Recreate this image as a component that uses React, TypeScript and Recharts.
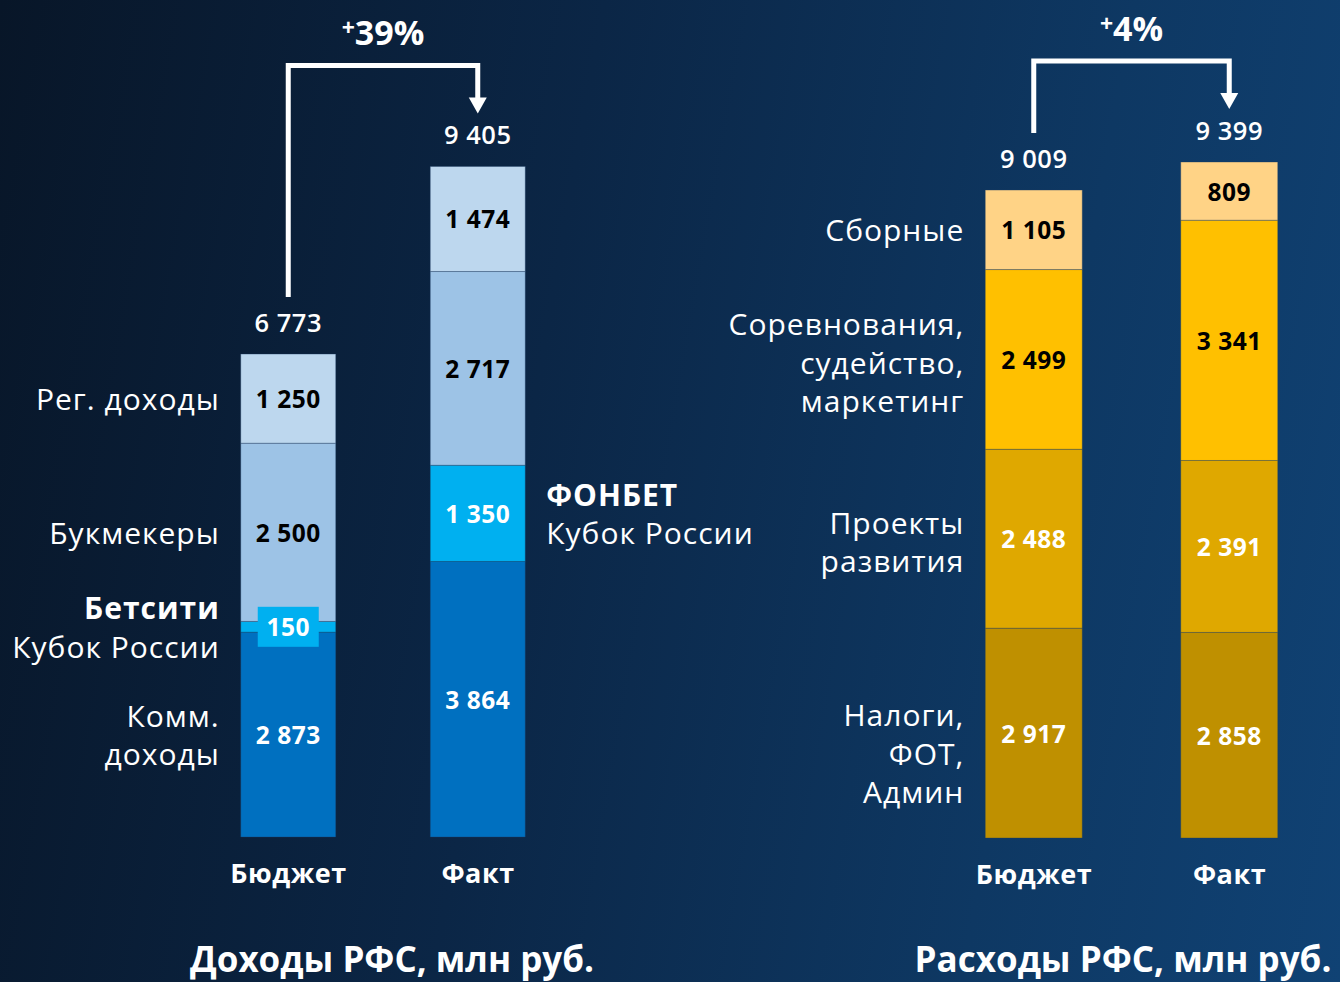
import React from "react";
import { BarChart, Bar, XAxis, YAxis, LabelList } from "recharts";

const categories = ["Бюджет", "Факт"];

// Доходы РФС, млн руб. (снизу вверх)
const incomeCommercial = [2873, 3864];
const incomeCup = [150, 1350];
const incomeBookmakers = [2500, 2717];
const incomeRegional = [1250, 1474];

// Расходы РФС, млн руб. (снизу вверх)
const expenseTaxes = [2917, 2858];
const expenseProjects = [2488, 2391];
const expenseCompetitions = [2499, 3341];
const expenseTeams = [1105, 809];

const FONT = "'Open Sans', 'Noto Sans', sans-serif";

interface NameLabel {
  lines: string[];
  boldFirst?: boolean;
  side: "left" | "right";
  dy?: number;
}

interface SeriesDef {
  key: string;
  values: number[];
  color: string;
  textColor: string;
  names: (NameLabel | null)[];
}

const incomeSeries: SeriesDef[] = [
  {
    key: "commercial",
    values: incomeCommercial,
    color: "#0070c0",
    textColor: "#ffffff",
    names: [{ lines: ["Комм.", "доходы"], side: "left" }, null],
  },
  {
    key: "cup",
    values: incomeCup,
    color: "#00b0f0",
    textColor: "#ffffff",
    names: [
      { lines: ["Бетсити", "Кубок России"], boldFirst: true, side: "left" },
      { lines: ["ФОНБЕТ", "Кубок России"], boldFirst: true, side: "right" },
    ],
  },
  {
    key: "bookmakers",
    values: incomeBookmakers,
    color: "#9dc3e6",
    textColor: "#000000",
    names: [{ lines: ["Букмекеры"], side: "left" }, null],
  },
  {
    key: "regional",
    values: incomeRegional,
    color: "#bdd7ee",
    textColor: "#000000",
    names: [{ lines: ["Рег. доходы"], side: "left" }, null],
  },
];

const expenseSeries: SeriesDef[] = [
  {
    key: "taxes",
    values: expenseTaxes,
    color: "#bf9000",
    textColor: "#ffffff",
    names: [{ lines: ["Налоги,", "ФОТ,", "Админ"], side: "left", dy: 20 }, null],
  },
  {
    key: "projects",
    values: expenseProjects,
    color: "#dfa800",
    textColor: "#ffffff",
    names: [{ lines: ["Проекты", "развития"], side: "left", dy: 3 }, null],
  },
  {
    key: "competitions",
    values: expenseCompetitions,
    color: "#ffc000",
    textColor: "#000000",
    names: [{ lines: ["Соревнования,", "судейство,", "маркетинг"], side: "left", dy: 3 }, null],
  },
  {
    key: "teams",
    values: expenseTeams,
    color: "#ffd386",
    textColor: "#000000",
    names: [{ lines: ["Сборные"], side: "left" }, null],
  },
];

const fmt = (v: number) => String(v).replace(/\B(?=(\d{3})+(?!\d))/g, "\u00a0");

const boxOf = (props: any) => {
  const vb = props.viewBox ?? props;
  const h = Number(vb.height) || 0;
  return {
    x: Number(vb.x),
    y: h < 0 ? Number(vb.y) + h : Number(vb.y),
    width: Number(vb.width),
    height: Math.abs(h),
  };
};

const valueLabel = (s: SeriesDef) => (props: any) => {
  const { x, y, width, height } = boxOf(props);
  const cx = x + width / 2;
  const cy = y + height / 2;
  const small = height < 30;
  return (
    <g>
      {small && <rect x={cx - 30.5} y={cy - 20} width={61} height={40} fill={s.color} />}
      <text
        x={cx}
        y={cy}
        textAnchor="middle"
        dominantBaseline="central"
        fill={s.textColor}
        fontSize={24.5}
        fontWeight={700}
        letterSpacing={0.5}
        fontFamily={FONT}
      >
        {fmt(props.value)}
      </text>
    </g>
  );
};

const nameLabel = (s: SeriesDef) => (props: any) => {
  const nl = s.names[props.index];
  if (!nl) return null;
  const { x, y, width, height } = boxOf(props);
  const cy = y + height / 2 + (nl.dy ?? 0);
  const left = nl.side === "left";
  const tx = left ? x - 21 : x + width + 21;
  const lineH = 38.5;
  const y0 = cy - ((nl.lines.length - 1) * lineH) / 2;
  return (
    <g>
      {nl.lines.map((ln, i) => (
        <text
          key={i}
          x={tx}
          y={y0 + i * lineH}
          textAnchor={left ? "end" : "start"}
          dominantBaseline="central"
          fill="#ffffff"
          fontSize={30}
          letterSpacing={1}
          fontWeight={nl.boldFirst && i === 0 ? 700 : 400}
          fontFamily={FONT}
        >
          {ln}
        </text>
      ))}
    </g>
  );
};

// total above each stack; on the last stack also the bracket with the change in %
const totalLabel = (totals: number[], band: number) => (props: any) => {
  const { x, y, width, height } = boxOf(props);
  const idx = props.index;
  const cx = x + width / 2;
  const k = height / props.value;
  const parts: React.ReactNode[] = [
    <text
      key="total"
      x={cx}
      y={y - 32}
      textAnchor="middle"
      dominantBaseline="central"
      fill="#ffffff"
      fontSize={25.5}
      fontWeight={600}
      letterSpacing={0.5}
      fontFamily={FONT}
    >
      {fmt(totals[idx])}
    </text>,
  ];
  if (idx === totals.length - 1) {
    const bottom = y + totals[idx] * k;
    const top0 = bottom - totals[0] * k;
    const cx0 = cx - band;
    const hy = Math.min(top0, y) - 101;
    const tip = y - 53;
    const pct = Math.round((totals[idx] / totals[0] - 1) * 100);
    parts.push(
      <path
        key="bracket"
        d={`M${cx0},${top0 - 57} V${hy} H${cx} V${tip - 12}`}
        stroke="#ffffff"
        strokeWidth={5}
        fill="none"
      />,
      <path key="head" d={`M${cx - 9},${tip - 16} L${cx + 9},${tip - 16} L${cx},${tip} Z`} fill="#ffffff" />,
      <text
        key="pct"
        x={(cx0 + cx) / 2}
        y={hy - 33}
        textAnchor="middle"
        dominantBaseline="central"
        fill="#ffffff"
        fontSize={34}
        fontWeight={700}
        fontFamily={FONT}
      >
        <tspan fontSize={23} dy={-5}>+</tspan>
        <tspan dy={5}>{pct}%</tspan>
      </text>
    );
  }
  return <g>{parts}</g>;
};

const CategoryTick = (props: any) => (
  <text
    x={props.x}
    y={props.y + 27}
    textAnchor="middle"
    dominantBaseline="central"
    fill="#ffffff"
    fontSize={27}
    fontWeight={700}
    letterSpacing={0.5}
    fontFamily={FONT}
  >
    {props.payload.value}
  </text>
);

interface PanelProps {
  series: SeriesDef[];
  left: number;
  width: number;
  margin: { top: number; right: number; bottom: number; left: number };
  barSize: number;
  domainMax: number;
}

const StackPanel: React.FC<PanelProps> = ({ series, left, width, margin, barSize, domainMax }) => {
  const data = categories.map((c, i) => {
    const row: Record<string, string | number> = { name: c };
    series.forEach((s) => (row[s.key] = s.values[i]));
    return row;
  });
  const totals = categories.map((_, i) => series.reduce((a, s) => a + s.values[i], 0));
  const band = (width - margin.left - margin.right) / categories.length;

  return (
    <div style={{ position: "absolute", left, top: 0 }}>
      <BarChart width={width} height={982} data={data} margin={margin}>
        <XAxis dataKey="name" axisLine={false} tickLine={false} height={60} tick={<CategoryTick />} interval={0} />
        <YAxis hide domain={[0, domainMax]} />
        {series.map((s, si) => (
          <Bar
            key={s.key}
            dataKey={s.key}
            stackId="a"
            fill={s.color}
            barSize={barSize}
            stroke="rgba(30,60,100,0.35)"
            strokeWidth={1}
            isAnimationActive={false}
          >
            <LabelList dataKey={s.key} content={valueLabel(s)} />
            <LabelList dataKey={s.key} content={nameLabel(s)} />
            {si === series.length - 1 && <LabelList dataKey={s.key} content={totalLabel(totals, band)} />}
          </Bar>
        ))}
      </BarChart>
    </div>
  );
};

const titleStyle: React.CSSProperties = {
  position: "absolute",
  top: 938,
  height: 42,
  lineHeight: "42px",
  color: "#ffffff",
  fontFamily: FONT,
  fontWeight: 700,
  fontSize: 35,
  textAlign: "center",
  whiteSpace: "nowrap",
};

export default function App() {
  return (
    <div
      style={{
        position: "relative",
        width: 1340,
        height: 982,
        overflow: "hidden",
        background: "linear-gradient(100deg, #081628 0%, #0b2646 40%, #0e3863 75%, #104274 100%)",
      }}
    >
      <style>{"body{margin:0}"}</style>
      <StackPanel
        series={incomeSeries}
        left={0}
        width={780}
        margin={{ top: 124, right: 207.25, bottom: 85, left: 193.75 }}
        barSize={95}
        domainMax={10000}
      />
      <StackPanel
        series={expenseSeries}
        left={680}
        width={660}
        margin={{ top: 118.8, right: 12.75, bottom: 84, left: 256.25 }}
        barSize={97}
        domainMax={10000}
      />
      <div style={{ ...titleStyle, left: 142, width: 500 }}>Доходы РФС, млн руб.</div>
      <div style={{ ...titleStyle, left: 873, width: 500 }}>Расходы РФС, млн руб.</div>
    </div>
  );
}
